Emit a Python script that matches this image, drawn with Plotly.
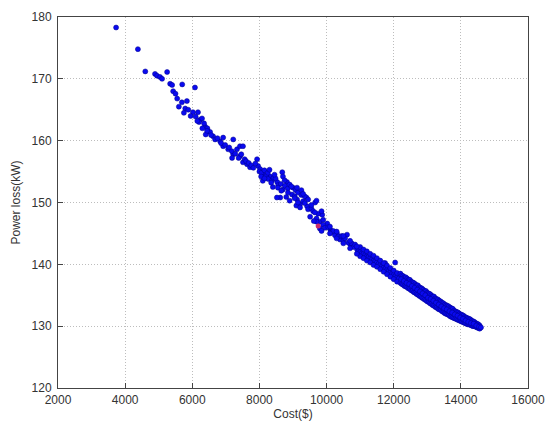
import plotly.graph_objects as go

# Sparse / mid region points (Cost $, Power loss kW)
cost_a = [3730, 4380, 4600, 4890, 4950, 5040, 5100, 5250, 5340, 5400, 5430, 5500, 5550, 5700,
          5690, 5840, 5790, 5880, 6080, 6020, 6170, 6230, 6290, 6380, 6470, 6530, 6620, 6680,
          6830, 6920, 6920, 7070, 7220, 7220, 7330, 7420, 7420, 7510, 7510, 7630, 7720, 7930,
          7960, 8020, 8110, 8320, 8530, 8680, 8700, 8700, 8820, 8970, 8620, 9120, 9210, 9420,
          9660, 9870, 9510, 10020, 10110, 10310, 10610, 10400, 10700, 10910,
          6100, 6200, 6350, 6450, 6560, 6750, 6860, 6980, 7100, 7180, 7280, 7380, 7460, 7560,
          7600, 7680, 7760, 7820, 7880, 8000, 8060, 8150, 8200, 8260, 8380, 8420, 8480, 8560,
          8640, 8760, 8850, 8900, 9000, 9050, 9080, 9150, 9250, 9300, 9350, 9400, 9450, 9550,
          9600, 9700, 9750, 9800, 9900, 9950, 10050, 10150, 10200, 10250, 10350, 10450, 10500,
          10550, 10650, 10750, 10800, 10850, 10950, 8100, 8400, 8800, 9100, 8900,
          8050, 8150, 8250, 8350, 8450, 8550, 8650, 8750, 8850, 8950, 9050, 9150, 9250, 9350,
          9450, 9550, 9650, 9700, 9850, 9900, 8300, 8520, 9210, 9120, 9300,
          5600, 5950, 6300, 6150, 5750, 6400, 7185, 6440,
          9700, 9800, 9850, 9620]
loss_a = [178.3, 174.8, 171.2, 170.8, 170.5, 170.3, 170.0, 171.1, 169.2, 169.0, 168.0, 167.6, 166.8, 169.1,
          166.2, 166.4, 165.2, 165.0, 168.6, 164.6, 164.6, 163.4, 163.6, 162.3, 161.5, 161.4, 160.7, 160.2,
          159.9, 160.5, 159.1, 158.6, 160.2, 157.8, 158.6, 157.5, 159.1, 159.1, 156.5, 156.2, 155.7, 157.0,
          155.9, 155.4, 154.6, 154.2, 153.3, 154.9, 154.2, 152.1, 153.3, 151.3, 150.8, 150.5, 149.7, 149.4,
          150.0, 148.0, 147.7, 146.6, 145.6, 145.0, 144.8, 144.0, 143.3, 142.4,
          163.9, 163.0, 162.8, 162.0, 160.9, 160.4, 159.6, 159.3, 158.9, 158.3, 157.9, 157.2, 157.8, 157.0,
          156.7, 156.4, 156.0, 155.6, 156.3, 155.0, 154.8, 155.2, 154.3, 153.8, 153.6, 154.0, 153.9, 152.8,
          153.0, 152.7, 152.3, 152.9, 152.4, 151.0, 152.0, 151.6, 151.2, 150.2, 149.9, 150.8, 148.9, 149.0,
          148.6, 147.4, 148.2, 146.9, 146.4, 145.9, 146.0, 145.2, 145.4, 144.7, 144.5, 144.6, 143.8,
          144.2, 143.5, 143.4, 142.8, 143.2, 142.1, 153.5, 152.5, 150.9, 149.5, 150.3,
          154.2, 153.9, 154.8, 153.2, 154.5, 152.4, 151.9, 153.6, 151.6, 152.6, 150.7, 150.0, 152.0, 151.0,
          150.5, 149.6, 148.4, 150.3, 148.6, 147.2, 155.3, 150.8, 149.2, 152.4, 151.4,
          165.5, 164.0, 162.0, 163.2, 164.5, 161.0, 157.2, 161.6,
          146.9, 145.8, 145.4, 147.0]

# Mid-lower region
cost_b = [11000, 11050, 11100, 11150, 11200, 11250, 11300, 11350, 11400, 11450, 11500, 11550,
          11600, 11650, 11700, 11750, 11800, 11850, 11900, 11950, 12000, 12050, 12100, 12150,
          11745, 12043,
          11000, 11100, 11200, 11300, 11400, 11500, 11600, 11700, 11800, 11900, 12000, 12100,
          11000, 11100, 11200, 11300, 11400, 11500, 11600, 11700, 11800, 11900, 12000, 12100,
          10100, 10300, 10500, 10700, 10900, 10100, 10300, 10500, 10700, 10900]
loss_b = [142.0, 141.8, 141.7, 141.5, 141.3, 141.2, 141.0, 140.8, 140.6, 140.5, 140.3, 140.1,
          139.9, 139.7, 139.5, 139.3, 139.1, 138.9, 138.7, 138.5, 138.3, 138.1, 137.9, 137.7,
          140.2, 140.3,
          142.8, 142.4, 142.1, 141.7, 141.4, 141.0, 140.6, 140.2, 139.8, 139.4, 139.0, 138.6,
          141.3, 141.0, 140.6, 140.3, 139.9, 139.6, 139.2, 138.8, 138.4, 138.0, 137.6, 137.2,
          146.1, 145.3, 144.6, 143.8, 142.9, 145.0, 144.2, 143.4, 142.6, 141.7]

# Dense lower-right band
cost_c = [12200, 12240, 12280, 12320, 12360, 12400, 12440, 12480, 12520, 12560, 12600, 12640,
          12680, 12720, 12760, 12800, 12840, 12880, 12920, 12960, 13000, 13040, 13080, 13120,
          13160, 13200, 13240, 13280, 13320, 13360, 13400, 13440, 13480, 13520, 13560, 13600,
          13640, 13680, 13720, 13760, 13800, 13840, 13880, 13920, 13960, 14000, 14040, 14080,
          14120, 14160, 14200, 14240, 14280, 14320, 14360, 14400, 14440, 14480, 14520, 14560]
loss_c_up = [138.5, 138.2, 138.1, 137.9, 137.9, 137.7, 137.5, 137.5, 137.2, 137.1, 137.0, 136.8,
             136.6, 136.6, 136.3, 136.2, 136.1, 135.9, 135.7, 135.7, 135.4, 135.3, 135.2, 135.0,
             134.8, 134.8, 134.5, 134.4, 134.3, 134.1, 134.0, 133.8, 133.7, 133.5, 133.4, 133.3,
             133.2, 133.0, 132.9, 132.8, 132.5, 132.4, 132.3, 132.2, 132.0, 131.9, 131.8, 131.7,
             131.5, 131.4, 131.3, 131.2, 131.1, 130.9, 130.8, 130.7, 130.5, 130.4, 130.3, 130.1]
loss_c_lo = [137.0, 136.8, 136.7, 136.5, 136.4, 136.3, 136.1, 136.0, 135.8, 135.7, 135.5, 135.4,
             135.2, 135.1, 134.9, 134.8, 134.6, 134.5, 134.3, 134.2, 134.0, 133.9, 133.7, 133.6,
             133.4, 133.3, 133.1, 133.0, 132.8, 132.7, 132.6, 132.4, 132.3, 132.1, 132.0, 131.9,
             131.8, 131.6, 131.5, 131.4, 131.3, 131.2, 131.1, 131.0, 130.9, 130.8, 130.7, 130.6,
             130.5, 130.4, 130.3, 130.3, 130.2, 130.1, 130.0, 130.0, 129.9, 129.8, 129.7, 129.6]
cost_d = [12220, 12300, 12380, 12460, 12540, 12620, 12700, 12780, 12860, 12940, 13020, 13100,
          13180, 13260, 13340, 13420, 13500, 13580, 13660, 13740, 13820, 13900, 13980, 14060,
          14140, 14220, 14300, 14380, 14460, 14540, 14600]
loss_d = [137.6, 137.3, 137.0, 136.8, 136.5, 136.2, 135.9, 135.6, 135.3, 135.0, 134.6, 134.4,
          134.1, 133.8, 133.5, 133.2, 132.9, 132.7, 132.4, 132.2, 131.9, 131.7, 131.4, 131.2,
          130.9, 130.7, 130.5, 130.4, 130.1, 129.9, 129.8]

# Highlighted (red) point
cost_red = [9750]
loss_red = [146.2]

x_all = cost_a + cost_b + cost_c + cost_c + cost_d
y_all = loss_a + loss_b + loss_c_up + loss_c_lo + loss_d

x_ticks = [2000, 4000, 6000, 8000, 10000, 12000, 14000, 16000]
y_ticks = [120, 130, 140, 150, 160, 170, 180]

FONT = "Liberation Sans, Arial, sans-serif"

fig = go.Figure()
fig.add_trace(go.Scatter(x=x_all, y=y_all, mode="markers",
                         marker=dict(size=5, color="#0a0af0",
                                     line=dict(width=0.5, color="#00008b")),
                         showlegend=False, hoverinfo="skip"))
fig.add_trace(go.Scatter(x=cost_red, y=loss_red, mode="markers",
                         marker=dict(size=5, color="#c8286e"),
                         showlegend=False, hoverinfo="skip"))

axis_common = dict(showline=True, linecolor="#444", linewidth=1, mirror=True,
                   ticks="inside", ticklen=5, tickcolor="#444",
                   showgrid=True, gridcolor="#bdbdbd", griddash="1px,2px", gridwidth=1,
                   zeroline=False, automargin=False,
                   tickfont=dict(family=FONT, size=12, color="#333"))

fig.update_layout(
    width=548, height=425,
    margin=dict(l=58, r=20, t=17, b=37),
    paper_bgcolor="white", plot_bgcolor="white",
    xaxis=dict(range=[2000, 16000], tickvals=x_ticks, ticktext=[str(v) for v in x_ticks],
               ticklabelstandoff=1,
               title=dict(text="Cost($)", standoff=2,
                          font=dict(family=FONT, size=12, color="#333")),
               **axis_common),
    yaxis=dict(range=[120, 180], tickvals=y_ticks, ticktext=[str(v) for v in y_ticks],
               ticklabelstandoff=3,
               title=dict(text="Power loss(kW)", standoff=8,
                          font=dict(family=FONT, size=12, color="#333")),
               **axis_common),
)

fig.write_html("out.html", config={"displayModeBar": False},
               post_script="document.body.style.margin='0';document.body.style.overflow='hidden';")
